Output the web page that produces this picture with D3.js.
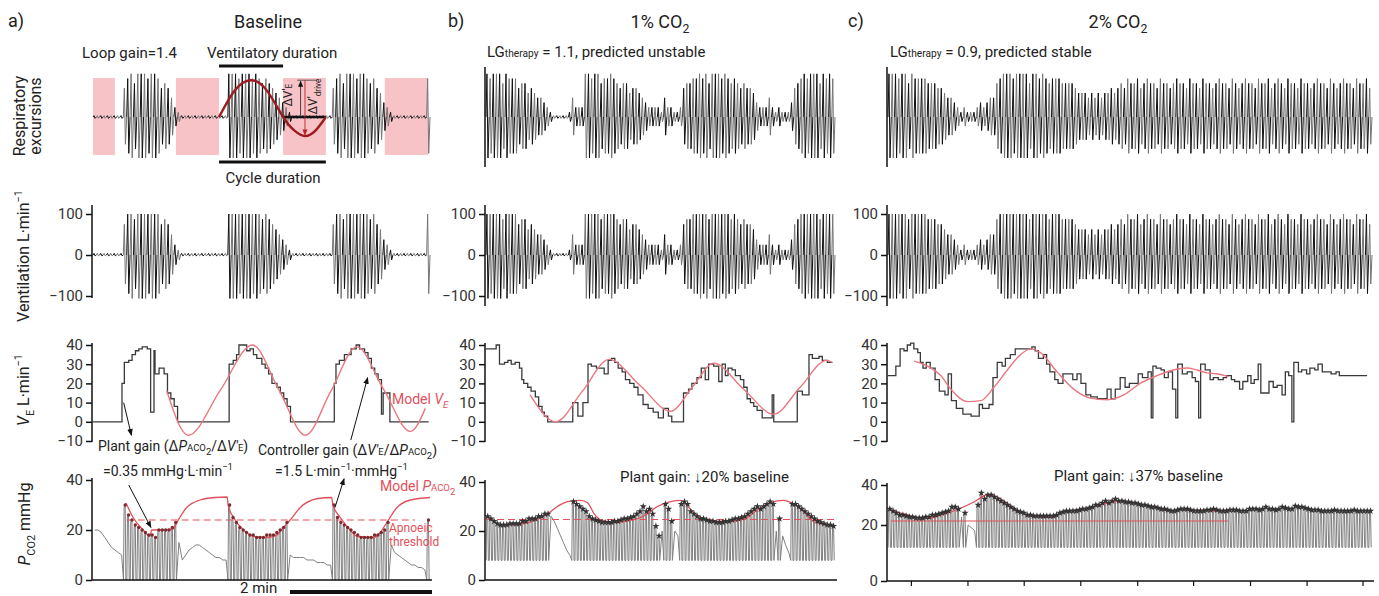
<!DOCTYPE html>
<html>
<head>
<meta charset="utf-8">
<script src="https://cdn.jsdelivr.net/npm/d3@7"></script>
<style>
  body { margin: 0; background: #fff; }
  svg text { font-family: Roboto, "Open Sans", sans-serif; }
</style>
</head>
<body>
<svg id="chart" width="1379" height="596"></svg>
<script>
/* Loop gain figure: baseline, 1% CO2 and 2% CO2.
   Breath-by-breath values. One character
   of the breath strings = one breath, excursion size on a 0-9 scale
   (rows 1 and 2 share it). Ventilation steps are [value, breaths]. */

// ---- panel a: baseline ----
const breathsA = "000000000" + "6897999899867642" + "100000000000000" +
  "999899989878765432" + "1000000000000" + "68979998998786532" + "100000000008";
const ventA = [[0,8.6],[20,0.7],[31,1.3],[32,1],[35,1],[37,1],[38,1],[39,1.5],[38,1],[5,1],[37,0.3],
  [25,1.2],[28,1.5],[25,1],[15,1],[12,1],[8,1],[0,15.3],[30,1.2],[32,1],[35,0.7],[40,2.3],[37,1],[38,1],
  [35,1],[33,1.5],[30,1],[28,1],[25,1],[20,1.5],[18,1],[15,1],[12,1],[8,1],[0,13],[20,0.5],[30,1],[32,1.5],
  [35,2],[38,1.5],[40,1],[38,1.5],[36,1],[33,1],[28,1],[25,1],[22,1],[4,0.5],[15,2],[0,11.5]];
const modelVentA = [[21.9,16],[28.3,-7],[37.8,16.5],[47.3,40],[55.2,16.5],[63,-7],[70.6,16],[78.3,39],
  [86.2,17],[94.2,-5],[98.6,7]];
const pco2A = [20,20,19,17,15,13,12,11,10,
  30,26,24,22,21,20,19,18,18,17,20,20,20,20,21,23,
  15,8,10,12,13,14,14,13,12,11,10,9,9,8,8,
  30,25,23,21,20,19,18,18,17,17,17,18,18,18,19,20,21,23,
  10,9,9,9,9,8,8,8,7,7,7,6,6,
  30,25,23,22,21,20,19,18,17,17,17,17,18,18,19,20,23,
  14,11,10,9,8,7,6,6,5,5,4,24];
const modelPco2A = [[9.8,30.8],[11.9,25],[14.9,20],[16.9,17.5],[17.4,20],[20,20],[23.9,20.5],[24.9,23],
  [27.8,29],[31.8,32],[36,33],[39.8,33.2],[40.1,30],[41.7,25],[44.7,20],[47.6,17.5],[51.6,17],[54.6,18],
  [56.5,21],[58.5,24],[61.5,29],[66.4,32.5],[70.8,33],[71.2,30],[73.4,25],[76.3,20],[78.3,17.5],
  [83.3,17],[85.2,19],[87.2,23],[90.2,29],[94.2,32],[100,33]];
const thresholdA = [24, 10, 95.5];
const apnoeaShadeA = [[0,6.5],[24.6,37.4],[56.4,69.1],[86.6,99.4]];
const cycleSineA = [[37.4,0],[42,0.58],[46.8,0.81],[51.6,0.58],[56.4,0],[59.8,-0.3],[62.9,-0.42],[66,-0.3],[69.1,0]];
const ventDurationA = [37.4, 56.4];
const cycleDurationA = [37.4, 69.1];

// ---- panel b: 1% CO2 ----
const breathsB = "9899979888677565443" + "210000014222" + "9989978898767756654" +
  "322221422112" + "67788989799989878767665" + "322242121113" + "6789899979898";
const ventB = [[38,3.2],[40,1.05],[30,1.6],[31,1.05],[32,1.05],[30,1.25],[31,1.35],[28,0.75],[22,0.6],
  [20,1.25],[18,1.05],[16,1.35],[13,1.05],[8,1.05],[5,0.75],[3,1.05],[0,7.9],[10,1.6],[3,1.6],[10,1.6],
  [30,1.05],[29,1.6],[28,2.45],[25,1.25],[32,1.05],[33,1.05],[31,1.05],[28,1.25],[26,1.05],[22,1.35],
  [20,1.35],[18,1.25],[14,1.6],[9,1.6],[7,1.6],[5,1.6],[2,1.6],[7,1.6],[3,1.05],[0,3.7],[15,1.6],[17,1.05],
  [20,1.6],[23,1.35],[28,1.25],[22,1.05],[30,1.6],[29,1.6],[21,1.05],[30,1.05],[24,0.85],[28,1.25],
  [27,1.05],[24,1.6],[22,1.05],[18,1.05],[12,1.05],[10,1.05],[8,1.05],[6,1.6],[2,3.15],[14,0.5],[0,7.4],
  [16,1.6],[14,2.1],[35,1.05],[33,2.1],[34,1.05],[32,1.6],[31,1.6]];
const modelVentB = [[13.9,14],[22,0],[30.4,16],[38.8,32.5],[48.5,19],[58.2,5.5],[65,18],[71.8,30.5],
  [81.2,17],[90.7,4],[99,18],[107.4,32],[109,31]];
const pco2B = [26,25,24,23,22.5,22.5,22.5,23,23,23,23,24,24,25,25,25,26,26,27,
  27,26,24,21,18,15,12,10,32,31,30,29,
  28,26,25,24.5,24,23.5,23.5,23.5,23.5,24,24,24.5,25,25,25.5,26,27,28,30,
  28,29,27,22,18,20,31,29,24,20,18,31,
  32,31,28,27,26,25,25,24.5,24,24,23.5,23.5,23.5,24,24,24.5,25,25,25.5,26,27,28,29,
  30,29,30,31,32,31,20,25,18,14,11,31,
  31,30,29,28,27,26,25,24,23.5,23,22.5,22.5,22];
const modelPco2B = [[0.3,26],[2.6,24],[4.2,22.5],[6.8,22.5],[12,23],[17.3,25.5],[19.4,27],[22.5,30],
  [25.7,32],[29.9,32.5],[32,31.5],[34.1,27],[36.2,24.5],[40.4,23.5],[44.5,24],[48.7,25.5],[50.8,27],
  [54,30],[58.2,32],[61.3,32.5],[62.9,31],[65.5,27.5],[68.7,25],[72.9,24],[78.1,24],[82.3,25.5],
  [85.4,28.5],[89.6,31.5],[93.8,32.5],[97,31],[100,28],[103.2,24],[107.4,22.5],[109.5,22]];
const thresholdB = [24.7, 0, 110];

// ---- panel c: 2% CO2 ----
const breathsC = "99989979888877766" + "5443" + "212111232344" + "7899989999799898788877776" +
  "5554545455656" + "7687786787" + "7687767877" + "6877687767" + "8776876787" + "7687786787" +
  "6877687767" + "8776876787" + "7687786";
const ventC = [[24,2.4],[29,1.3],[38,1.2],[37,1],[40,1],[41,1],[38,1.2],[36,0.8],[31,0.8],[28,1],[31,1.2],
  [28,1.5],[22,1.3],[16,1.7],[14,1],[25,1],[11,1.5],[7,2],[4,2.5],[3,2.5],[9,1],[7,2],[9,1.2],[23,1.3],
  [31,1.5],[29,1],[33,1.5],[35,1.5],[38,5.1],[39,1],[37,1],[33,1.5],[35,1],[30,1],[26,1.5],[22,1],[20,1.5],
  [25,3],[22,1.3],[25,1.2],[20,1.5],[14,1.5],[13,2],[12,3],[17,1.2],[12,1.3],[17,1.5],[23,1.5],[18,1.3],
  [20,2.7],[25,1.3],[23,1.7],[26,1],[2,0.5],[29,1],[28,1.5],[27,1],[23,1.2],[26,1.3],[17,1],[2,0.6],
  [30,1.4],[25,1.5],[26,1.5],[23,1],[21,1],[2,0.6],[30,1.4],[27,1.5],[22,1],[23,1.5],[22,1.5],[23,1],
  [24,1.5],[22,1],[21,1.5],[17,1],[21,1.5],[24,1],[20,1],[22,1.2],[30,0.8],[15,2.5],[21,1.3],[18,1.2],
  [19,1.5],[14,1],[26,1],[24,1],[0,0.6],[31,1.4],[26,1],[27,1.5],[25,1],[28,1.5],[27,1],[30,1.3],[26,2.7],
  [25,1.5],[26,1],[24,8.5]];
const modelVentC = [[8,31.6],[12.1,29],[16.2,24],[19.2,17],[24.3,10.5],[28.4,11],[32.4,18],[36.5,27],
  [40.5,35],[43.6,38],[46.6,36],[51.7,26],[56.8,17],[61.9,12.3],[67,11.5],[72.1,14],[77.1,20],[82.2,24],
  [87.3,27],[91.4,28],[94.4,27],[97.5,25.5],[100.5,25],[104.1,23.5]];
const pco2C = [28,27,26,25,25, 24.5,24,24,23.5,23.5,23.5,24,24, 25,25,25.5,26,26.5,27,29,
  29,28,24,26,20,19,18,30,36,33,35,35,34,
  33,32,31,30,29,28,27,26.5,26,25,25,24.5,24.5,24.5,24.5,24.5,24.5,24.5,25,26,26.5,27,27,27,27,
  27.5,28,28,28.5,29,30,30,31,32,31,32,33,32,
  32,31.5,31.5,31,31,30.5,30,30,29.5,29,29,28.5,28,28,27.5,27,27,27.5,28,28,28,27.5,27,27,27,27,
  27.5,27.5,28,27.5,27,27,27,27.5,
  27.5,27.5,27,27,27,28,28,28,27.5,28,29,28,28,27.5,28,29,28.5,28,28,29.5,29,29,28.5,28,27.5,27.5,
  27.5,27,27,27,27,27.5,27,27,27,27,27,27.5,27,27,27,27,27];
const modelPco2C = [[0.9,27.4],[6,25],[10,23.5],[13.1,23.5],[16.2,25],[19.2,26.5],[22.3,28.5],[26.3,31.5],
  [30.4,35],[33.4,34],[36.5,30.7],[39.5,27.4],[42.6,25],[46.6,24],[50.7,24],[52.7,26],[56.8,27.4],
  [61.9,28.5],[67,31],[71,32],[74,31.5],[77,30.3],[81.2,29.3],[84.2,27.7],[87.3,27],[89.3,28],[93.4,27.4],
  [97.5,27.5],[100.5,27],[103.6,27.4]];
const thresholdC = [22, 0.9, 104];
const minuteTicksC = [7, 24.3, 41.5, 58.8, 76.2, 93.3, 110.7, 128, 145.1];

const RED = '#e2505b', DARKRED = '#9e1b22', INK = '#222';

const svg = d3.select('#chart');
const defs = svg.append('defs');
function marker(id, color) {
  defs.append('marker').attr('id', id).attr('viewBox', '0 0 10 10')
    .attr('refX', 9).attr('refY', 5).attr('markerWidth', 7).attr('markerHeight', 7)
    .attr('orient', 'auto')
    .append('path').attr('d', 'M0,1 L10,5 L0,9 z').attr('fill', color);
}
marker('arrowK', '#111');
marker('arrowR', '#c0222c');

// text with sub/superscripts: parts are strings or [text, style]
function rich(x, y, parts, size, opts = {}) {
  const t = svg.append('text').attr('x', x).attr('y', y)
    .attr('font-size', size).attr('fill', opts.color || INK)
    .attr('text-anchor', opts.anchor || 'start');
  if (opts.rotate) t.attr('transform', `rotate(-90,${x},${y})`);
  let shift = 0;
  parts.forEach(p => {
    const [s, style] = typeof p === 'string' ? [p, ''] : p;
    const ts = t.append('tspan').text(s);
    let target = 0;
    if (style.includes('sub')) target = size * 0.3;
    if (style.includes('sup')) target = -size * 0.42;
    if (target !== shift) { ts.attr('dy', target - shift); shift = target; }
    if (/sub|sup|small/.test(style)) ts.attr('font-size', size * 0.68);
    if (style.includes('it')) ts.attr('font-style', 'italic');
    if (style.includes('bold')) ts.attr('font-weight', 'bold');
  });
  return t;
}

function vline(x, y0, y1, w = 1.5) {
  svg.append('line').attr('x1', x).attr('x2', x).attr('y1', y0).attr('y2', y1)
    .attr('stroke', '#111').attr('stroke-width', w);
}

function yAxis(x, scale, ticks, extent) {
  const g = svg.append('g').attr('transform', `translate(${x},0)`)
    .call(d3.axisLeft(scale).tickValues(ticks).tickSize(6).tickPadding(3));
  g.select('.domain').remove();
  g.selectAll('.tick line').attr('stroke', '#111').attr('stroke-width', 1.5);
  g.selectAll('.tick text').attr('font-size', 15).attr('fill', '#333')
    .style('font-family', 'Roboto, sans-serif');
  vline(x, extent[0], extent[1]);
}

const panels = [
  { key: 'a', axisX: 92, x0: 93, x1: 430, n: 100, breaths: breathsA, vent: ventA, modelVent: modelVentA,
    pco2: pco2A, modelPco2: modelPco2A, threshold: thresholdA, trough: 0, dashed: true, dots: 'circle',
    pco2Domain: [0, 40], pco2Range: [580, 480], row2Extent: [205, 298], row4Top: 478 },
  { key: 'b', axisX: 485, x0: 486, x1: 835, n: 110, breaths: breathsB, vent: ventB, modelVent: modelVentB,
    pco2: pco2B, modelPco2: modelPco2B, threshold: thresholdB, trough: 8, dashed: true, dots: 'star',
    pco2Domain: [0, 40], pco2Range: [580, 482], row2Extent: [205, 306], row4Top: 480 },
  { key: 'c', axisX: 887, x0: 888, x1: 1372, n: 148, breaths: breathsC, vent: ventC, modelVent: modelVentC,
    pco2: pco2C, modelPco2: modelPco2C, threshold: thresholdC, trough: 12, dashed: false, dots: 'star',
    pco2Domain: [0, 20, 40], pco2Range: [581, 525, 485], row2Extent: [205, 306], row4Top: 483 }
];

const y1 = d3.scaleLinear().domain([-1.1, 1.1]).range([167, 67]);
const y2 = d3.scaleLinear().domain([-100, 100]).range([296, 214]);
const y3 = d3.scaleLinear().domain([-10, 40]).range([441, 345]);

function drawBreaths(levels, x, y, toValue) {
  const line = d3.line().x(d => x(d[0])).y(d => y(d[1]));
  svg.append('g').selectAll('path').data(levels).join('path')
    .attr('d', (lvl, k) => {
      const [up, down] = toValue(lvl);
      return line([[k, 0], [k + 0.3, up], [k + 0.62, down], [k + 1, 0]]);
    })
    .attr('fill', 'none')
    .attr('stroke', (d, k) => k % 2 ? '#767676' : '#111')
    .attr('stroke-width', 1);
}

panels.forEach(p => {
  const x = d3.scaleLinear().domain([0, p.n]).range([p.x0, p.x1]);
  const levels = Array.from(p.breaths, Number);

  // row 1: respiratory excursions
  if (p.key === 'a') {
    svg.append('g').selectAll('rect').data(apnoeaShadeA).join('rect')
      .attr('x', d => x(d[0])).attr('width', d => x(d[1]) - x(d[0]))
      .attr('y', 78).attr('height', 77).attr('fill', '#f7c3c7');
  } else {
    vline(p.axisX, 67, 167);
  }
  drawBreaths(levels, x, y1, l => l ? [l / 9 * 0.95, -l / 9 * 0.9] : [0.03, -0.03]);

  // row 2: ventilation flow
  drawBreaths(levels, x, y2, l => l ? [Math.min(100, l / 9 * 112), -l / 9 * 106] : [4, -2]);
  yAxis(p.axisX, y2, [-100, 0, 100], p.row2Extent);

  // row 3: breath-by-breath ventilation and model
  let t = 0;
  const steps = p.vent.map(([v, w]) => { const s = [t, v]; t += w; return s; });
  steps.push([t, p.vent[p.vent.length - 1][0]]);
  svg.append('path')
    .attr('d', d3.line().curve(d3.curveStepAfter).x(d => x(d[0])).y(d => y3(d[1]))(steps))
    .attr('fill', 'none').attr('stroke', '#3a3a3a').attr('stroke-width', 1.3);
  svg.append('path')
    .attr('d', d3.line().curve(d3.curveMonotoneX).x(d => x(d[0])).y(d => y3(d[1]))(p.modelVent))
    .attr('fill', 'none').attr('stroke', '#ec7780').attr('stroke-width', 1.4);
  yAxis(p.axisX, y3, [-10, 0, 10, 20, 30, 40], [343, 442]);

  // row 4: PCO2 trace, model and apnoeic threshold
  const y4 = d3.scaleLinear().domain(p.pco2Domain).range(p.pco2Range);
  const pts = [], peaks = [];
  levels.forEach((lvl, k) => {
    const v = p.pco2[k];
    if (lvl >= 2) {
      pts.push([k + 0.05, p.trough], [k + 0.22, v - 0.8], [k + 0.55, v], [k + 0.75, p.trough]);
      peaks.push([k + 0.55, v]);
    } else {
      pts.push([k + 0.5, v]);
    }
  });
  svg.append('path')
    .attr('d', d3.line().x(d => x(d[0])).y(d => y4(d[1]))(pts))
    .attr('fill', 'none').attr('stroke', '#808080').attr('stroke-width', 1);
  const [thr, thrFrom, thrTo] = p.threshold;
  svg.append('line').attr('x1', x(thrFrom)).attr('x2', x(thrTo))
    .attr('y1', y4(thr)).attr('y2', y4(thr))
    .attr('stroke', RED).attr('stroke-width', 1.1)
    .attr('stroke-dasharray', p.dashed ? '7,4' : null);
  svg.append('path')
    .attr('d', d3.line().curve(d3.curveMonotoneX).x(d => x(d[0])).y(d => y4(d[1]))(p.modelPco2))
    .attr('fill', 'none').attr('stroke', RED).attr('stroke-width', 1.3);
  if (p.dots === 'circle') {
    svg.append('g').selectAll('circle').data(peaks).join('circle')
      .attr('cx', d => x(d[0])).attr('cy', d => y4(d[1])).attr('r', 1.7).attr('fill', '#7d2b30');
  } else {
    svg.append('g').selectAll('path').data(peaks).join('path')
      .attr('transform', d => `translate(${x(d[0])},${y4(d[1])})`)
      .attr('d', d3.symbol(d3.symbolStar).size(16)).attr('fill', '#333');
  }
  yAxis(p.axisX, y4, [0, 20, 40], [p.row4Top, p.pco2Range[0]]);
  svg.append('line').attr('x1', p.axisX).attr('x2', p.x1 + 2)
    .attr('y1', p.pco2Range[0]).attr('y2', p.pco2Range[0])
    .attr('stroke', '#111').attr('stroke-width', 1.5);
  if (p.key === 'c') {
    const gx = svg.append('g').attr('transform', `translate(0,${p.pco2Range[0]})`)
      .call(d3.axisBottom(x).tickValues(minuteTicksC).tickSize(5).tickFormat(''));
    gx.select('.domain').remove();
    gx.selectAll('.tick line').attr('stroke', '#111').attr('stroke-width', 1.2);
  }

  // panel a annotations tied to its scales
  if (p.key === 'a') {
    const bar = (r, y, w) => svg.append('line').attr('x1', x(r[0])).attr('x2', x(r[1]))
      .attr('y1', y).attr('y2', y).attr('stroke', '#111').attr('stroke-width', w);
    bar(ventDurationA, 66, 3);
    bar(cycleDurationA, 162, 3.2);
    bar([cycleSineA[4][0], cycleSineA[8][0]], y1(0), 2.4);
    svg.append('path')
      .attr('d', d3.line().curve(d3.curveNatural).x(d => x(d[0])).y(d => y1(d[1]))(cycleSineA))
      .attr('fill', 'none').attr('stroke', DARKRED).attr('stroke-width', 2.4);
    const peakV = cycleSineA[2][1], troughV = cycleSineA[6][1];
    svg.append('line').attr('x1', x(60.6)).attr('x2', x(66.4)).attr('y1', y1(peakV)).attr('y2', y1(peakV))
      .attr('stroke', '#333').attr('stroke-width', 0.8);
    svg.append('line').attr('x1', x(61.6)).attr('x2', x(61.6)).attr('y1', y1(0)).attr('y2', y1(peakV) + 1)
      .attr('stroke', '#333').attr('stroke-width', 0.9).attr('marker-end', 'url(#arrowK)');
    svg.append('line').attr('x1', x(62.9)).attr('x2', x(62.9)).attr('y1', y1(peakV)).attr('y2', y1(troughV) - 1)
      .attr('stroke', '#c0222c').attr('stroke-width', 0.9).attr('marker-end', 'url(#arrowR)');
    rich(x(59.2), y1(0.48), ['ΔV′', ['E', 'small']], 12, { anchor: 'middle', rotate: true });
    rich(x(66.6), y1(0.45), ['ΔV′', ['drive', 'sub']], 12, { anchor: 'middle', rotate: true });

    // gain annotations
    const arrow = (a, b) => svg.append('line').attr('x1', a[0]).attr('y1', a[1]).attr('x2', b[0]).attr('y2', b[1])
      .attr('stroke', '#111').attr('stroke-width', 1).attr('marker-end', 'url(#arrowK)');
    arrow([x(9.1), y3(10)], [x(11.4), y3(-7)]);
    arrow([x(76.5), y3(-9.5)], [x(81.5), y3(23)]);
    arrow([x(10.6), y4(38)], [x(17.2), y4(21)]);
    arrow([x(71.8), y4(29)], [x(74.5), y4(40.5)]);
  }
});

// ---- titles and labels ----
rich(8, 27, ['a)'], 18);
rich(268, 28, ['Baseline'], 18, { anchor: 'middle' });
rich(82, 58, ['Loop gain=1.4'], 15);
rich(207, 58, ['Ventilatory duration'], 15);
rich(273, 183, ['Cycle duration'], 15, { anchor: 'middle' });
rich(25, 116, ['Respiratory'], 16, { anchor: 'middle', rotate: true });
rich(41, 116, ['excursions'], 16, { anchor: 'middle', rotate: true });
rich(29, 256, ['Ventilation L·min', ['−1', 'sup']], 16, { anchor: 'middle', rotate: true });
rich(29, 390, [['V', 'it'], ['E', 'sub'], ' L·min', ['−1', 'sup']], 16, { anchor: 'middle', rotate: true });
rich(30, 524, [['P', 'it'], ['CO', 'sub'], ['2', 'sub'], ' mmHg'], 16, { anchor: 'middle', rotate: true });

rich(98, 451, ['Plant gain (Δ', ['P', 'it'], ['ACO', 'small'], ['2', 'sub'], '/Δ', ['V′', 'it'], ['E', 'small'], ')'], 14);
rich(258, 455, ['Controller gain (Δ', ['V′', 'it'], ['E', 'small'], '/Δ', ['P', 'it'], ['ACO', 'small'], ['2', 'sub'], ')'], 14);
rich(392, 404, ['Model ', ['V', 'it'], ['E', 'sub it']], 14, { color: RED });
rich(103, 476, ['=0.35 mmHg·L·min', ['−1', 'sup']], 14);
rich(275, 476, ['=1.5 L·min', ['−1', 'sup'], '·mmHg', ['−1', 'sup']], 14);
rich(380, 491, ['Model ', ['P', 'it'], ['ACO', 'small'], ['2', 'sub']], 14, { color: RED });
rich(389, 532, ['Apnoeic'], 12, { color: RED });
rich(389, 546, ['threshold'], 12, { color: RED });
rich(240, 593, ['2 min'], 15);
svg.append('line').attr('x1', 290).attr('x2', 432).attr('y1', 592).attr('y2', 592)
  .attr('stroke', '#111').attr('stroke-width', 4);

rich(448, 27, ['b)'], 18);
rich(660, 28, ['1% CO', ['2', 'sub']], 18, { anchor: 'middle' });
rich(487, 57, ['LG', ['therapy', 'small'], ' = 1.1, predicted unstable'], 15);
rich(620, 482, ['Plant gain: ', ['↓', 'bold'], '20% baseline'], 15);

rich(848, 27, ['c)'], 18);
rich(1118, 28, ['2% CO', ['2', 'sub']], 18, { anchor: 'middle' });
rich(890, 57, ['LG', ['therapy', 'small'], ' = 0.9, predicted stable'], 15);
rich(1054, 481, ['Plant gain: ', ['↓', 'bold'], '37% baseline'], 15);
</script>
</body>
</html>
